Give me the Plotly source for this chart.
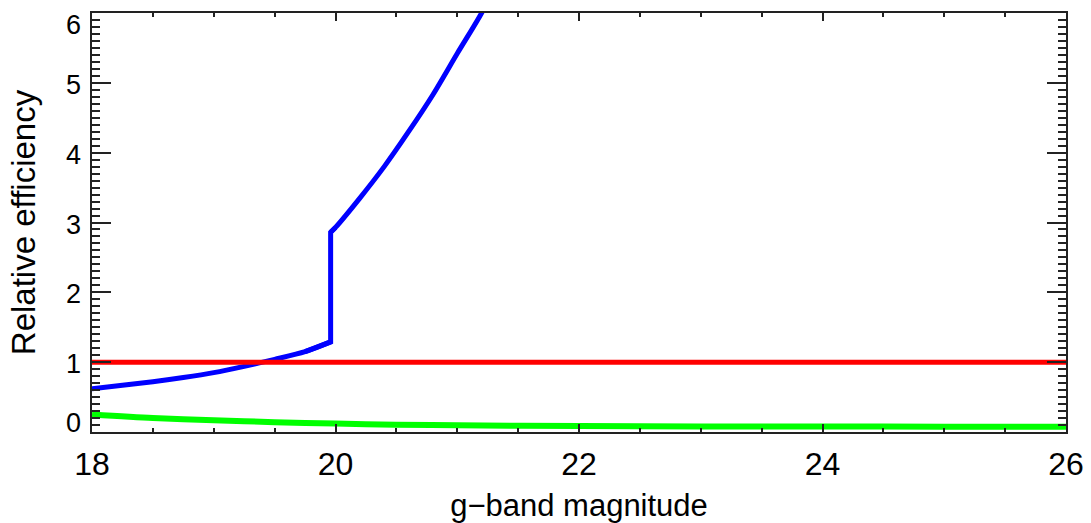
import plotly.graph_objects as go

# ---- data ----
# blue curve, below the step
mag_blue_lo = [18.0, 18.25, 18.5, 18.75, 19.0, 19.25, 19.5, 19.75, 19.96]
eff_blue_lo = [0.62, 0.67, 0.72, 0.78, 0.85, 0.94, 1.04, 1.15, 1.29]
# blue curve, above the step
mag_blue_hi = [19.96, 20.0, 20.2, 20.4, 20.6, 20.8, 21.0, 21.2, 21.4]
eff_blue_hi = [2.86, 2.93, 3.35, 3.80, 4.30, 4.83, 5.42, 6.00, 6.70]

mag_red = [18.0, 26.0]
eff_red = [1.0, 1.0]

mag_green = [18.0, 18.5, 19.0, 19.5, 20.0, 20.5, 21.0, 22.0, 23.0, 24.0, 25.0, 26.0]
eff_green = [0.25, 0.20, 0.17, 0.14, 0.12, 0.105, 0.095, 0.085, 0.08, 0.078, 0.076, 0.075]

x_tickvals = [18, 20, 22, 24, 26]
x_ticktext = ["18", "20", "22", "24", "26"]
y_tickvals = [0, 1, 2, 3, 4, 5, 6]
y_ticktext = ["0", "1", "2", "3", "4", "5", "6"]

FONT = "Liberation Sans, Arial, Helvetica, sans-serif"
AX = "#222222"
BLUE = "#0000ff"

fig = go.Figure()
fig.add_trace(go.Scatter(x=mag_blue_lo, y=eff_blue_lo, mode="lines",
                         line=dict(color=BLUE, width=5, shape="spline", smoothing=0.8),
                         showlegend=False))
# the step itself, joined to its neighbours so the corners are closed
fig.add_trace(go.Scatter(x=mag_blue_lo[-2:] + mag_blue_hi[:2], y=eff_blue_lo[-2:] + eff_blue_hi[:2],
                         mode="lines", line=dict(color=BLUE, width=5), showlegend=False))
fig.add_trace(go.Scatter(x=mag_blue_hi, y=eff_blue_hi, mode="lines",
                         line=dict(color=BLUE, width=5, shape="spline", smoothing=0.8),
                         showlegend=False))
fig.add_trace(go.Scatter(x=mag_red, y=eff_red, mode="lines",
                         line=dict(color="#ff0000", width=5), showlegend=False))
fig.add_trace(go.Scatter(x=mag_green, y=eff_green, mode="lines",
                         line=dict(color="#00ff00", width=6, shape="spline", smoothing=0.8),
                         showlegend=False))

# y tick labels as annotations (ends pulled inward like the original)
shifts = {0: 9, 6: -12}
for v, t in zip(y_tickvals, y_ticktext):
    fig.add_annotation(x=0, xref="paper", y=v, yref="y", text=t, showarrow=False,
                       xanchor="right", yanchor="middle", xshift=-9,
                       yshift=shifts.get(v, -2),
                       font=dict(family=FONT, size=27, color="black"))

fig.update_layout(
    width=1091, height=523,
    margin=dict(l=92, r=25, t=13, b=91),
    paper_bgcolor="white", plot_bgcolor="white",
    font=dict(family=FONT, color="black"),
)

fig.update_xaxes(
    range=[18, 26], tickvals=x_tickvals, ticktext=x_ticktext, automargin=False,
    ticks="inside", ticklen=8, tickwidth=1.5, tickcolor=AX,
    minor=dict(dtick=0.5, ticks="inside", ticklen=4, tickwidth=1.5, tickcolor=AX),
    showline=True, linecolor=AX, linewidth=1.5, mirror="allticks",
    showgrid=False, zeroline=False, ticklabelstandoff=3,
    tickfont=dict(family=FONT, size=32, color="black"),
    title=dict(text="g\u2212band magnitude", font=dict(family=FONT, size=31, color="black"), standoff=13),
)
fig.update_yaxes(
    range=[0, 6], tickvals=y_tickvals, showticklabels=False, automargin=False,
    ticks="inside", ticklen=19, tickwidth=1.5, tickcolor=AX,
    minor=dict(dtick=0.1, ticks="inside", ticklen=8, tickwidth=1.5, tickcolor=AX),
    showline=True, linecolor=AX, linewidth=1.5, mirror="allticks",
    showgrid=False, zeroline=False,
    title=dict(text="Relative efficiency", font=dict(family=FONT, size=33, color="black"), standoff=45),
)

fig.write_html("out.html")
